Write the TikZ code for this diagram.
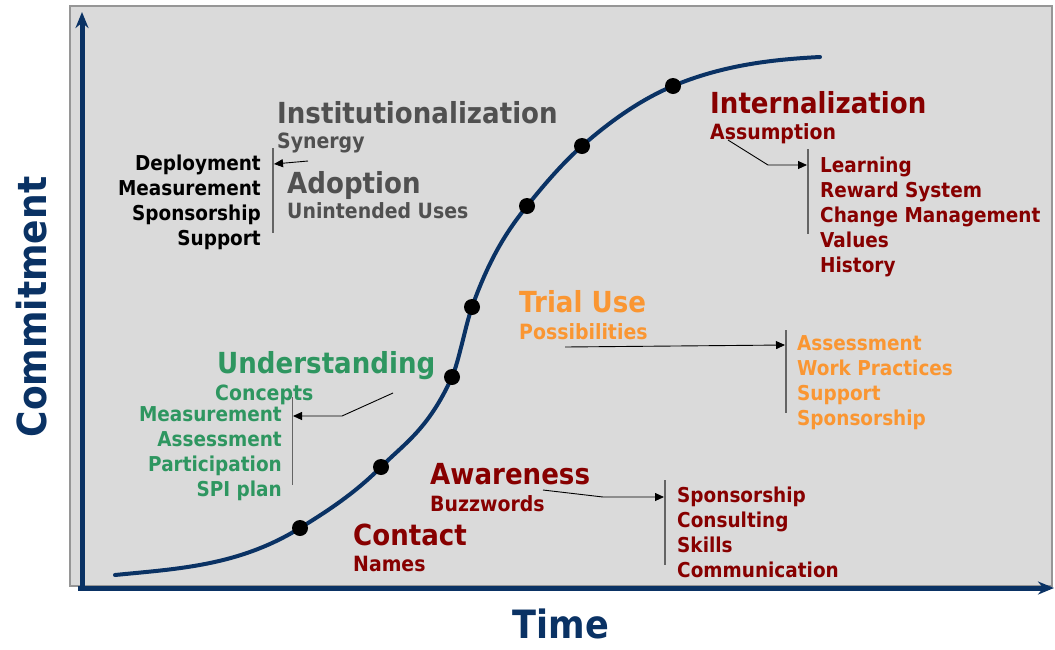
\documentclass[tikz,border=0pt]{standalone}
\usepackage{fontspec}
\newfontfamily\vf[FakeStretch=0.9]{DejaVu Sans}
\usetikzlibrary{arrows.meta}
\definecolor{navy}{RGB}{10,50,100}
\definecolor{dred}{RGB}{135,0,0}
\definecolor{orng}{RGB}{250,150,50}
\definecolor{grn}{RGB}{46,150,96}
\definecolor{ttlgray}{RGB}{80,80,80}
\definecolor{panelfill}{RGB}{218,218,218}
\definecolor{panelline}{RGB}{150,150,150}
\definecolor{brk}{RGB}{100,100,100}
\newcommand\ttlfont{\vf\bfseries\fontsize{29}{33}\selectfont}
\newcommand\subfont{\vf\bfseries\fontsize{21}{25}\selectfont}
\newcommand\itmfont{\vf\bfseries\fontsize{20.5}{25}\selectfont}
\newcommand\axfont{\vf\bfseries\fontsize{40}{44}\selectfont}
\newcommand\timefont{\vf\bfseries\fontsize{39}{43}\selectfont}
\tikzset{
  ttl/.style={font=\ttlfont, anchor=base west, inner sep=0pt},
  sub/.style={font=\subfont, anchor=base west, inner sep=0pt},
  itm/.style={font=\itmfont, anchor=base west, inner sep=0pt},
  bracket/.style={draw=brk, line width=1.6pt},
  conn/.style={draw=black, line width=0.9pt, -{Triangle[length=9pt,width=8pt]}},
  axis/.style={draw=navy, line width=5pt, -{Stealth[length=16pt,width=13pt]}},
  dot/.style={circle, fill=black, inner sep=0pt, minimum size=16pt},
}
\begin{document}
\begin{tikzpicture}[x=1pt,y=-1pt]
\useasboundingbox (0,0) rectangle (1055,649);
\fill[white] (0,0) rectangle (1055,649);
% panel
\draw[fill=panelfill, draw=panelline, line width=2.5pt] (70,6) rectangle (1052,586);
% axes
\coordinate (O) at (82,588);
\coordinate (ytop) at (82,12);
\coordinate (xleft) at (78,588);
\coordinate (xright) at (1054,588);
\draw[axis] (O) -- (ytop);
\draw[axis] (xleft) -- (xright);
% curve
\draw[navy, line width=4pt, line cap=round]
  (115,575) .. controls (176.67,568.8) and (238.33,566.2) .. (300,528)
            .. controls (327,511.3) and (354,494) .. (381,467)
            .. controls (404.67,443.3) and (428.33,429.1) .. (452,377)
            .. controls (458.67,362.3) and (465.33,325.7) .. (472,307)
            .. controls (490.33,255.7) and (508.67,228.9) .. (527,206)
            .. controls (545.33,183.1) and (563.67,162.1) .. (582,146)
            .. controls (612.33,119.3) and (642.67,98.7) .. (673,86)
            .. controls (722,65.4) and (771,59.5) .. (820,57);
% dots
\node[dot] (d1) at (300,528) {};
\node[dot] (d2) at (381,467) {};
\node[dot] (d3) at (452,377) {};
\node[dot] (d4) at (472,307) {};
\node[dot] (d5) at (527,206) {};
\node[dot] (d6) at (582,146) {};
\node[dot] (d7) at (673,86) {};
% axis labels
\node[font=\axfont, text=navy, anchor=base, rotate=90, inner sep=0pt] (commit) at (46,307) {Commitment};
\node[font=\timefont, text=navy, anchor=base, inner sep=0pt, text depth=0pt] (time) at (561,638) {Time};
% Institutionalization / Adoption
\node[ttl, text=ttlgray] (inst) at (277,123) {Institutionalization};
\node[sub, text=ttlgray] (syn) at (277,148) {Synergy};
\node[ttl, text=ttlgray] (adop) at (287,193) {Adoption};
\node[sub, text=ttlgray] (unint) at (287,218) {Unintended Uses};
\foreach \t [count=\i] in {Deployment,Measurement,Sponsorship,Support}
  \node[itm, anchor=base east, text=black] (dl\i) at (261,{170+25.3*(\i-1)}) {\t};
\coordinate (b1t) at (273,148); \coordinate (b1b) at (273,233);
\draw[bracket] (b1t) -- (b1b);
\coordinate (a1s) at (308,161); \coordinate (a1e) at (274,164);
\draw[conn] (a1s) -- (a1e);
% Internalization
\node[ttl, text=dred] (intern) at (710,113) {Internalization};
\node[sub, text=dred] (assum) at (710,139) {Assumption};
\foreach \t [count=\i] in {Learning,Reward System,Change Management,Values,History}
  \node[itm, text=dred] (il\i) at (820,{172+25*(\i-1)}) {\t};
\coordinate (b2t) at (808,149); \coordinate (b2b) at (808,234);
\draw[bracket] (b2t) -- (b2b);
\coordinate (a2s) at (728,140); \coordinate (a2m) at (768,165); \coordinate (a2e) at (807,165);
\draw[conn] (a2s) -- (a2m) -- (a2e);
% Trial Use
\node[ttl, text=orng] (trial) at (519,312) {Trial Use};
\node[sub, text=orng] (poss) at (519,339) {Possibilities};
\foreach \t [count=\i] in {Assessment,Work Practices,Support,Sponsorship}
  \node[itm, text=orng] (tl\i) at (797,{350+25.3*(\i-1)}) {\t};
\coordinate (b3t) at (786,330); \coordinate (b3b) at (786,413);
\draw[bracket] (b3t) -- (b3b);
\coordinate (a3s) at (565,347); \coordinate (a3e) at (785,345);
\draw[conn] (a3s) -- (a3e);
% Understanding
\node[ttl, text=grn] (under) at (217,373) {Understanding};
\node[sub, text=grn] (conc) at (215,400) {Concepts};
\foreach \t [count=\i] in {Measurement,Assessment,Participation,SPI plan}
  \node[itm, anchor=base east, text=grn] (ul\i) at (282,{421+25.3*(\i-1)}) {\t};
\coordinate (b4t) at (292,397); \coordinate (b4b) at (292,485);
\draw[bracket, line width=1pt] (b4t) -- (b4b);
\coordinate (a4s) at (393,393); \coordinate (a4m) at (342,416); \coordinate (a4e) at (293,416);
\draw[conn] (a4s) -- (a4m) -- (a4e);
% Awareness
\node[ttl, text=dred] (aware) at (430,484) {Awareness};
\node[sub, text=dred] (buzz) at (430,511) {Buzzwords};
\foreach \t [count=\i] in {Sponsorship,Consulting,Skills,Communication}
  \node[itm, text=dred] (al\i) at (677,{502+25*(\i-1)}) {\t};
\coordinate (b5t) at (665,480); \coordinate (b5b) at (665,565);
\draw[bracket] (b5t) -- (b5b);
\coordinate (a5s) at (543,490); \coordinate (a5m) at (603,497); \coordinate (a5e) at (664,497);
\draw[conn] (a5s) -- (a5m) -- (a5e);
% Contact
\node[ttl, text=dred] (contact) at (353,545) {Contact};
\node[sub, text=dred] (names) at (353,571) {Names};
\end{tikzpicture}
\end{document}
